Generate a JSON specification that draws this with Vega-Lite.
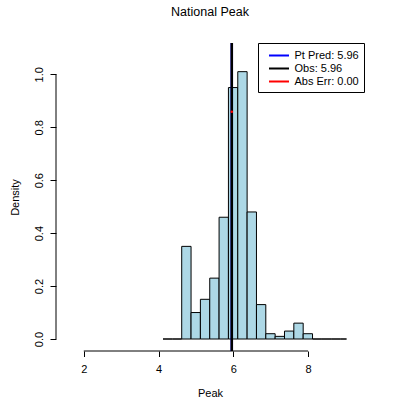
{
  "$schema": "https://vega.github.io/schema/vega-lite/v6.json",
  "width": 308,
  "height": 308,
  "autosize": {"type": "none"},
  "padding": {"left": 56, "top": 43, "right": 43, "bottom": 56},
  "background": "white",
  "config": {
    "font": "Liberation Sans",
    "view": {"stroke": null},
    "axisX": {"domain": false, "grid": false, "tickSize": 5.5, "tickColor": "black", "tickWidth": 1, "labelFontSize": 11, "labelColor": "black", "labelBaseline": "alphabetic", "labelPadding": 16, "titleFontSize": 11, "titleFontWeight": "normal", "titleColor": "black", "titleBaseline": "alphabetic", "titleY": 45},
    "axisY": {"domain": false, "grid": false, "tickSize": 6, "tickColor": "black", "tickWidth": 1, "labelFontSize": 11, "labelColor": "black", "labelAngle": -90, "labelAlign": "center", "labelBaseline": "alphabetic", "labelPadding": 8, "titleFontSize": 11, "titleFontWeight": "normal", "titleColor": "black", "titleBaseline": "alphabetic", "titleX": -38}
  },
  "title": {"text": "National Peak", "fontSize": 12.5, "fontWeight": "normal", "color": "black", "frame": "group", "anchor": "middle", "baseline": "alphabetic", "offset": 13},
  "datasets": {
    "bins": [
      {"start": 4.12, "end": 4.37, "density": 0},
      {"start": 4.37, "end": 4.62, "density": 0},
      {"start": 4.62, "end": 4.87, "density": 0.35},
      {"start": 4.87, "end": 5.12, "density": 0.10},
      {"start": 5.12, "end": 5.37, "density": 0.15},
      {"start": 5.37, "end": 5.62, "density": 0.23},
      {"start": 5.62, "end": 5.87, "density": 0.46},
      {"start": 5.87, "end": 6.12, "density": 0.95},
      {"start": 6.12, "end": 6.37, "density": 1.01},
      {"start": 6.37, "end": 6.62, "density": 0.48},
      {"start": 6.62, "end": 6.87, "density": 0.13},
      {"start": 6.87, "end": 7.12, "density": 0.02},
      {"start": 7.12, "end": 7.37, "density": 0.01},
      {"start": 7.37, "end": 7.62, "density": 0.03},
      {"start": 7.62, "end": 7.87, "density": 0.06},
      {"start": 7.87, "end": 8.12, "density": 0.02},
      {"start": 8.12, "end": 8.37, "density": 0},
      {"start": 8.37, "end": 8.62, "density": 0},
      {"start": 8.62, "end": 8.87, "density": 0},
      {"start": 8.87, "end": 9.03, "density": 0}
    ],
    "lines": [
      {"series": "Pt Pred: 5.96", "value": 5.96},
      {"series": "Obs: 5.96", "value": 5.96}
    ],
    "err": [
      {"series": "Abs Err: 0.00", "from": 5.959, "to": 5.961, "level": 0.859}
    ],
    "xline": [{"from": 2, "to": 8}],
    "yline": [{"from": 0, "to": 1}]
  },
  "layer": [
    {
      "data": {"name": "bins"},
      "mark": {"type": "rect", "fill": "#ADD8E6", "stroke": "black", "strokeWidth": 1},
      "encoding": {
        "x": {"field": "start", "type": "quantitative", "title": "Peak", "scale": {"domain": [1.257, 9.497], "nice": false, "zero": false}, "axis": {"values": [2, 4, 6, 8]}},
        "x2": {"field": "end"},
        "y": {"field": "density", "type": "quantitative", "title": "Density", "scale": {"domain": [-0.0453, 1.1183], "nice": false, "zero": false}, "axis": {"values": [0, 0.2, 0.4, 0.6, 0.8, 1.0], "format": ".1f"}},
        "y2": {"datum": 0}
      }
    },
    {
      "data": {"name": "xline"},
      "mark": {"type": "rule", "color": "black", "strokeWidth": 1},
      "encoding": {
        "x": {"field": "from", "type": "quantitative", "title": "Peak"},
        "x2": {"field": "to"},
        "y": {"value": "height"}
      }
    },
    {
      "data": {"name": "yline"},
      "mark": {"type": "rule", "color": "black", "strokeWidth": 1},
      "encoding": {
        "y": {"field": "from", "type": "quantitative", "title": "Density"},
        "y2": {"field": "to"},
        "x": {"value": 0}
      }
    },
    {
      "data": {"name": "lines"},
      "mark": {"type": "rule", "strokeWidth": 2.5},
      "encoding": {
        "x": {"field": "value", "type": "quantitative", "title": "Peak"},
        "color": {"field": "series", "type": "nominal",
          "scale": {"domain": ["Pt Pred: 5.96", "Obs: 5.96", "Abs Err: 0.00"], "range": ["blue", "black", "red"]},
          "legend": {"orient": "top-right", "offset": 0, "title": null, "symbolType": "M-1.54,0H1.54", "symbolSize": 169, "symbolStrokeWidth": 2, "symbolFillColor": "transparent", "symbolOffset": 8.5, "labelOffset": 8, "labelFontSize": 11, "labelColor": "black", "padding": 5, "rowPadding": 0, "strokeColor": "black", "fillColor": "white"}}
      }
    },
    {
      "data": {"name": "err"},
      "mark": {"type": "rule", "strokeWidth": 2.5, "strokeCap": "round"},
      "encoding": {
        "x": {"field": "from", "type": "quantitative", "title": "Peak"},
        "x2": {"field": "to"},
        "y": {"field": "level", "type": "quantitative", "title": "Density"},
        "color": {"field": "series", "type": "nominal"}
      }
    }
  ]
}
